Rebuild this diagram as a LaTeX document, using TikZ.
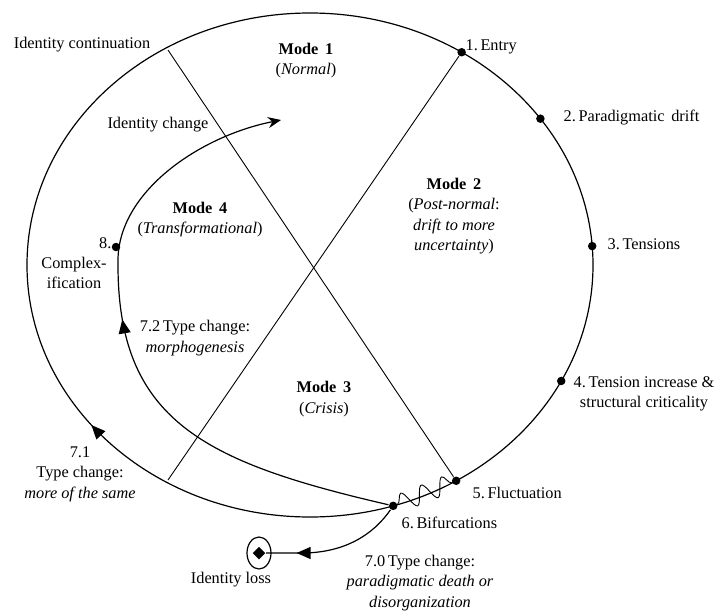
\documentclass[tikz,border=0pt]{standalone}
\usepackage{fontspec}
\setmainfont{Liberation Serif}
\usetikzlibrary{positioning,shapes.geometric,arrows.meta,decorations.pathmorphing,decorations.markings}

\tikzset{
  txt/.style={inner sep=0pt, align=center, font=\fontsize{16.3}{20.5}\selectfont},
  stage/.style={circle, fill, inner sep=0pt, minimum size=8.5pt},
  thinline/.style={line width=0.9pt},
  midarrow/.style={postaction={decorate}, decoration={markings,
      mark=at position #1 with {\arrow{Triangle[length=14pt,width=12pt]}}}},
}

\begin{document}
\begin{tikzpicture}[x=1pt, y=-1pt, line width=1.2pt]
    \useasboundingbox (0,0) rectangle (718,611);

    % the cycle
    \coordinate (c) at (310,265);
    \draw[midarrow=0.395] (c) ellipse [x radius=283, y radius=252];

    % stages on the cycle
    \path (c) ++(-57.6:283 and 252) node (entry) [stage] {};
    \path (c) ++(-35.5:283 and 252) node (drift) [stage] {};
    \path (c) ++(-4.3:283 and 252) node (tension) [stage] {};
    \path (c) ++(27.4:283 and 252) node (increase) [stage] {};
    \path (c) ++(58.9:283 and 252) node (fluct) [stage] {};
    \path (c) ++(72.9:283 and 252) node (bif) [stage] {};
    \node (cplx) [stage] at (116,247) {};

    \node (entrylbl) [txt, anchor=west] at (465,47) {1.\,Entry};
    \node (driftlbl) [txt, anchor=west] at (563,118) {2.\,Paradigmatic\, drift};
    \node (tensionlbl) [txt, anchor=west] at (607,244) {3.\,Tensions};
    \node (increaselbl) [txt] at (644,394) {4.\,Tension increase \&\\structural criticality};
    \node (fluctlbl) [txt, anchor=west] at (472,493) {5.\,Fluctuation};
    \node (biflbl) [txt, anchor=west] at (401,523) {6.\,Bifurcations};

    % the two axes
    \coordinate (contstart) at (168,50);
    \coordinate (entryend) at (168,480);
    \draw[thinline] (contstart) -- (fluct);
    \draw[thinline] (entry) -- (entryend);

    % modes
    \node (mode1) [txt] at (306,60.5) {\textbf{Mode\, 1}\\(\textit{Normal})};
    \node (mode2) [txt] at (454,216) {\textbf{Mode\, 2}\\(\textit{Post-normal}:\\\textit{drift to more}\\\textit{uncertainty})};
    \node (mode3) [txt] at (324,399) {\textbf{Mode\, 3}\\(\textit{Crisis})};
    \node (mode4) [txt] at (200,219.5) {\textbf{Mode\, 4}\\(\textit{Transformational})};

    % morphogenesis path
    \coordinate (bend) at (118,262);
    \coordinate (chg) at (281,120);
    \draw[-{Stealth[length=13pt,width=11pt]}, midarrow=0.545] (bif) .. controls (203,462) and (117,420) .. (bend)
        .. controls (117,192) and (200,136) .. (chg);

    % identity loss
    \node (loss) [draw, ellipse, minimum width=24pt, minimum height=32pt, inner sep=0pt] at (259,553) {};
    \node (lossmark) [diamond, fill, inner sep=0pt, minimum size=13pt] at (loss) {};
    \coordinate (lossbend) at (305,553);
    \draw[midarrow=0.78] (bif) .. controls (373,535) and (345,552) .. (lossbend) -- (lossmark.east);

    % fluctuations
    \draw[thinline, decorate, decoration={snake, amplitude=9pt, segment length=22pt}] (bif) -- (fluct);

    \node (contlbl) [txt] at (82,45) {Identity continuation};
    \node (chglbl) [txt] at (158,125) {Identity change};
    \node (cplxnum) [txt, anchor=east] at (112,243) {8.};
    \node (cplxlbl) [txt] at (74,273) {Complex-\\ification};
    \node (morphlbl) [txt] at (195,338) {7.2\,Type change:\\\textit{morphogenesis}};
    \node (samelbl) [txt] at (80,474) {7.1\\Type change:\\\textit{more of the same}};
    \node (losslbl) [txt] at (231,580) {Identity loss};
    \node (deathlbl) [txt] at (420,583) {7.0\,Type change:\\\textit{paradigmatic death or}\\\textit{disorganization}};
\end{tikzpicture}
\end{document}
